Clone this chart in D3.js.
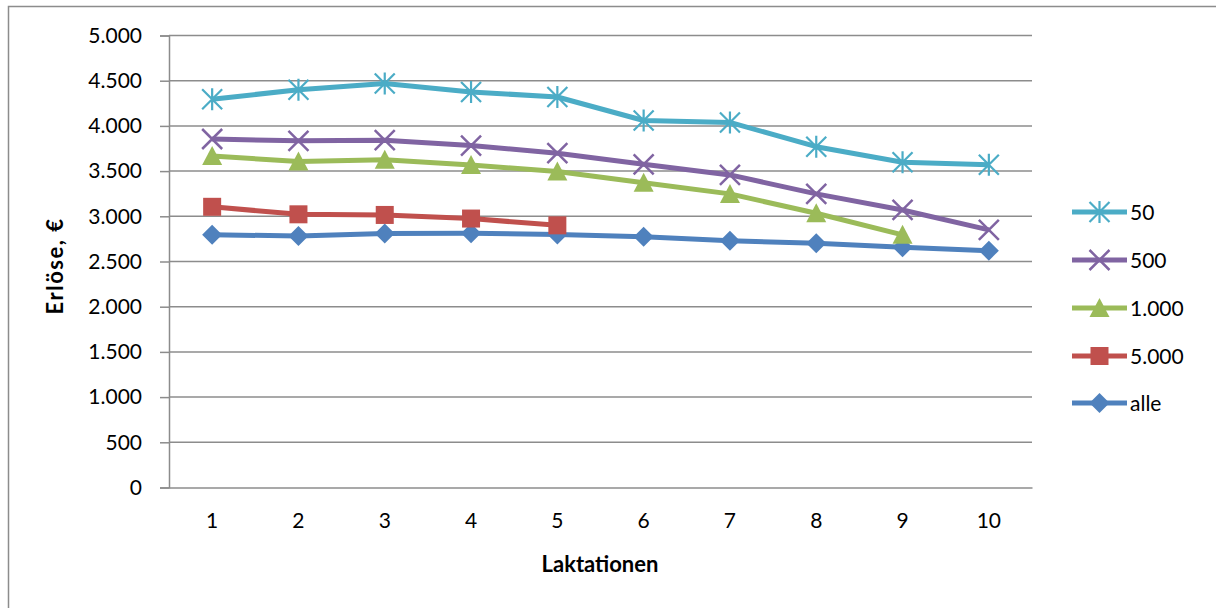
<!DOCTYPE html>
<html>
<head>
<meta charset="utf-8">
<script src="https://cdn.jsdelivr.net/npm/d3@7"></script>
<style>
  html, body { margin: 0; padding: 0; background: #fff; }
  svg { display: block; }
  text { font-family: Lato, "Open Sans", sans-serif; fill: #000; }
</style>
</head>
<body>
<svg id="chart" width="1216" height="608"></svg>
<script>
// Laktationen 1–10
const categories = [1, 2, 3, 4, 5, 6, 7, 8, 9, 10];

// Erlöse je Laktation, €
const s50   = [4295, 4400, 4470, 4375, 4320, 4060, 4038, 3770, 3598, 3570];
const s500  = [3855, 3835, 3842, 3782, 3698, 3575, 3458, 3248, 3070, 2850];
const s1000 = [3668, 3605, 3625, 3568, 3495, 3372, 3248, 3034, 2795, null];
const s5000 = [3105, 3022, 3015, 2975, 2900, null, null, null, null, null];
const sAlle = [2795, 2783, 2810, 2812, 2800, 2775, 2730, 2702, 2657, 2620];

const yTicks = [0, 500, 1000, 1500, 2000, 2500, 3000, 3500, 4000, 4500, 5000];
const seriesNames = ["50", "500", "1.000", "5.000", "alle"];

const series = [
  { name: seriesNames[0], values: s50,   color: "#4BACC6", marker: "asterisk" },
  { name: seriesNames[1], values: s500,  color: "#8064A2", marker: "x" },
  { name: seriesNames[2], values: s1000, color: "#9BBB59", marker: "triangle" },
  { name: seriesNames[3], values: s5000, color: "#C0504D", marker: "square" },
  { name: seriesNames[4], values: sAlle, color: "#4F81BD", marker: "diamond" }
];

const fmt = v => d3.format(",")(v).replace(/,/g, ".");

const svg = d3.select("#chart");
const plot = { left: 169, right: 1032, top: 35.5, bottom: 487.5 };

// outer chart frame
svg.append("rect")
  .attr("x", 8.5).attr("y", 6.5)
  .attr("width", 1400).attr("height", 800)
  .attr("fill", "none").attr("stroke", "#8c8c8c").attr("stroke-width", 1.5);

const x = d3.scaleBand().domain(categories).range([plot.left, plot.right]);
const y = d3.scaleLinear().domain([0, 5000]).range([plot.bottom, plot.top]);

// horizontal gridlines + y axis
const yAxis = d3.axisLeft(y).tickValues(yTicks).tickFormat(fmt).tickSize(9).tickPadding(18);
const gy = svg.append("g").attr("transform", `translate(${plot.left},0)`).call(yAxis);
gy.select(".domain").attr("stroke", "#8c8c8c").attr("stroke-width", 1.5);
gy.selectAll(".tick line").attr("stroke", "#8c8c8c").attr("stroke-width", 1.5);
gy.selectAll(".tick text").attr("font-size", 21).attr("font-family", "Lato, sans-serif").attr("fill", "#000");

svg.append("g").selectAll("line").data(yTicks.filter(t => t > 0)).join("line")
  .attr("x1", plot.left).attr("x2", plot.right)
  .attr("y1", d => y(d)).attr("y2", d => y(d))
  .attr("stroke", "#8c8c8c").attr("stroke-width", 1.5);

// x axis
const xAxis = d3.axisBottom(x).tickSize(0).tickPadding(26);
const gx = svg.append("g").attr("transform", `translate(0,${plot.bottom})`).call(xAxis);
gx.select(".domain").attr("stroke", "#8c8c8c").attr("stroke-width", 1.5);
gx.selectAll(".tick text").attr("font-size", 21).attr("font-family", "Lato, sans-serif").attr("fill", "#000");

// axis titles
svg.append("text")
  .attr("x", 600).attr("y", 572)
  .attr("text-anchor", "middle").attr("font-size", 22).attr("font-weight", "bold")
  .attr("font-family", "'Open Sans', sans-serif")
  .text("Laktationen");

svg.append("text")
  .attr("transform", "translate(63,266) rotate(-90)")
  .attr("text-anchor", "middle").attr("font-size", 22).attr("font-weight", "bold")
  .attr("font-family", "'Open Sans', sans-serif")
  .attr("letter-spacing", 1.5)
  .text("Erlöse, €");

// marker shapes
function drawMarker(g, type, color) {
  if (type === "square") {
    g.append("rect").attr("x", -9).attr("y", -9).attr("width", 18).attr("height", 18).attr("fill", color);
  } else if (type === "diamond") {
    g.append("path").attr("d", "M0,-10L10,0L0,10L-10,0Z").attr("fill", color);
  } else if (type === "triangle") {
    g.append("path").attr("d", "M0,-10L10,9L-10,9Z").attr("fill", color);
  } else if (type === "x") {
    g.append("path").attr("d", "M-10,-10L10,10M-10,10L10,-10")
      .attr("stroke", color).attr("stroke-width", 2.5).attr("fill", "none");
  } else if (type === "asterisk") {
    g.append("path").attr("d", "M-10,-10L10,10M-10,10L10,-10M0,-11L0,11")
      .attr("stroke", color).attr("stroke-width", 2.2).attr("fill", "none");
  }
}

const line = d3.line()
  .defined(d => d.v != null)
  .x(d => x(d.c) + x.bandwidth() / 2)
  .y(d => y(d.v));

// draw back to front so "alle" sits on top
series.slice().reverse().forEach(s => {
  const pts = categories.map((c, i) => ({ c, v: s.values[i] }));
  const g = svg.append("g");
  g.append("path").datum(pts).attr("d", line)
    .attr("fill", "none").attr("stroke", s.color).attr("stroke-width", 5)
    .attr("stroke-linejoin", "round");
  pts.filter(d => d.v != null).forEach(d => {
    const m = g.append("g").attr("transform", `translate(${x(d.c) + x.bandwidth() / 2},${y(d.v)})`);
    drawMarker(m, s.marker, s.color);
  });
});

// legend
const legendY = [212, 260, 308, 356, 403];
const lg = svg.append("g");
series.forEach((s, i) => {
  const row = lg.append("g").attr("transform", `translate(0,${legendY[i]})`);
  row.append("line").attr("x1", 1072).attr("x2", 1127).attr("y1", 0).attr("y2", 0)
    .attr("stroke", s.color).attr("stroke-width", 5);
  const m = row.append("g").attr("transform", "translate(1099.5,0)");
  drawMarker(m, s.marker, s.color);
  row.append("text").attr("x", 1130).attr("y", 7.5).attr("font-size", 21).text(s.name);
});
</script>
</body>
</html>
